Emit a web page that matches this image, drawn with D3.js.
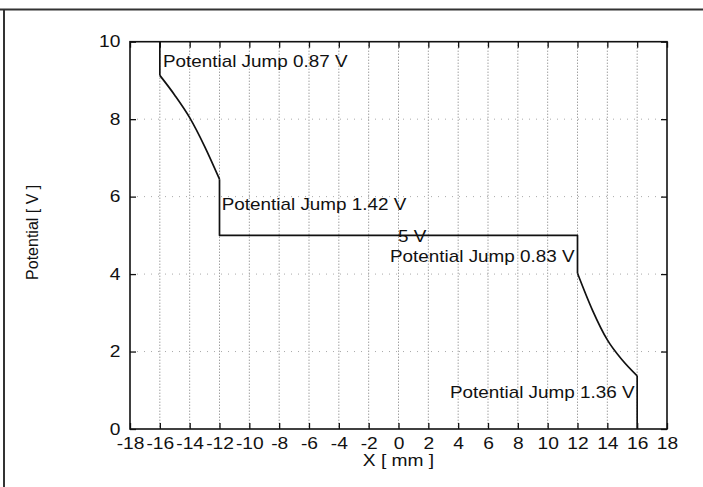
<!DOCTYPE html>
<html>
<head>
<meta charset="utf-8">
<script src="https://cdn.jsdelivr.net/npm/d3@7"></script>
<style>
html,body{margin:0;padding:0;background:#fff;}
svg{display:block;}
text{font-family:"Liberation Sans",Arial,sans-serif;fill:#111;}
</style>
</head>
<body>
<svg id="chart" width="703" height="487"></svg>
<script>
// ---- data ----
const xTicks = [-18,-16,-14,-12,-10,-8,-6,-4,-2,0,2,4,6,8,10,12,14,16,18];
const yTicks = [0,2,4,6,8,10];
const gridX = [-16,-14,-12,-10,-8,-6,-4,-2,0,2,4,6,8,10,12,14,16];
const gridY = [2,4,6,8];
const profileX = [-16,-16,-15,-14,-13,-12,-12,12,12,13,14,15,16,16];
const profileV = [10,9.13,8.62,8.04,7.30,6.45,5.0,5.0,4.02,3.07,2.30,1.78,1.37,0];
const noteText = ["Potential Jump 0.87 V","Potential Jump 1.42 V","5 V","Potential Jump 0.83 V","Potential Jump 1.36 V"];
const noteX = [-15.79,-11.85,-0.04,-0.57,3.45];
const noteV = [9.34,5.65,4.84,4.32,0.80];
const xTitle = "X [ mm ]";
const yTitle = "Potential [ V ]";

// ---- layout ----
const svg = d3.select("#chart");
const L = 130, R = 667, T = 41.7, B = 429;
const x = d3.scaleLinear().domain([-18,18]).range([L,R]);
const y = d3.scaleLinear().domain([0,10]).range([B,T]);
const SX = 1.2; // horizontal glyph stretch of the scanned figure

// page frame
svg.append("line").attr("x1",0).attr("x2",703).attr("y1",9.5).attr("y2",9.5)
  .attr("stroke","#333").attr("stroke-width",2);
svg.append("line").attr("x1",4).attr("x2",4).attr("y1",9.5).attr("y2",487)
  .attr("stroke","#333").attr("stroke-width",2);

// grid
svg.append("g").selectAll("line").data(gridX).join("line")
  .attr("x1",d=>x(d)).attr("x2",d=>x(d)).attr("y1",T).attr("y2",B)
  .attr("stroke","#777").attr("stroke-width",1).attr("stroke-dasharray","1,2");
svg.append("g").selectAll("line").data(gridY).join("line")
  .attr("x1",L).attr("x2",R).attr("y1",d=>y(d)).attr("y2",d=>y(d))
  .attr("stroke","#aaa").attr("stroke-width",1).attr("stroke-dasharray","1,6");

// axes
const fmt = d => String(d);
function styleAxis(g){
  g.select(".domain").remove();
  g.selectAll(".tick line").attr("stroke","#111").attr("stroke-width",1.3);
  g.selectAll(".tick text").attr("font-size",16).attr("fill","#111")
    .attr("font-family","'Liberation Sans',Arial,sans-serif");
}
const gB = svg.append("g").attr("transform",`translate(0,${B})`)
  .call(d3.axisBottom(x).tickValues(xTicks).tickSize(-6).tickPadding(9).tickFormat(fmt));
styleAxis(gB);
gB.selectAll(".tick text").attr("transform",`scale(${SX},1)`);
const gT = svg.append("g").attr("transform",`translate(0,${T})`)
  .call(d3.axisTop(x).tickValues(xTicks).tickSize(-6).tickFormat(""));
styleAxis(gT);
const gL = svg.append("g").attr("transform",`translate(${L},0)`)
  .call(d3.axisLeft(y).tickValues(yTicks).tickSize(-6).tickPadding(8).tickFormat(fmt));
styleAxis(gL);
gL.selectAll(".tick text").attr("transform",`scale(${SX},1)`);
const gR = svg.append("g").attr("transform",`translate(${R},0)`)
  .call(d3.axisRight(y).tickValues(yTicks).tickSize(-6).tickFormat(""));
styleAxis(gR);

// plot frame
svg.append("rect").attr("x",L).attr("y",T).attr("width",R-L).attr("height",B-T)
  .attr("fill","none").attr("stroke","#111").attr("stroke-width",1.6);

// profile line: straight jumps, smooth decaying parts
const pts = profileX.map((d,i)=>[d,profileV[i]]);
const lin = d3.line().x(d=>x(d[0])).y(d=>y(d[1]));
const smooth = d3.line().x(d=>x(d[0])).y(d=>y(d[1])).curve(d3.curveMonotoneX);
const pieces = [
  [lin, pts.slice(0,2)],
  [smooth, pts.slice(1,6)],
  [lin, pts.slice(5,9)],
  [smooth, pts.slice(8,13)],
  [lin, pts.slice(12,14)]
];
pieces.forEach(([gen,p])=>{
  svg.append("path").attr("d",gen(p))
    .attr("fill","none").attr("stroke","#111").attr("stroke-width",1.7)
    .attr("stroke-linejoin","round");
});

// annotations
noteText.forEach((t,i)=>{
  svg.append("text")
    .attr("transform",`translate(${x(noteX[i])},${y(noteV[i])}) scale(1.18,1)`)
    .attr("font-size",16).text(t);
});

// axis titles
svg.append("text").attr("transform",`translate(${(L+R)/2},466) scale(${SX},1)`)
  .attr("text-anchor","middle").attr("font-size",16).text(xTitle);
svg.append("text").attr("transform",`translate(38,${(T+B)/2-3}) rotate(-90)`)
  .attr("text-anchor","middle").attr("font-size",16).text(yTitle);
</script>
</body>
</html>
